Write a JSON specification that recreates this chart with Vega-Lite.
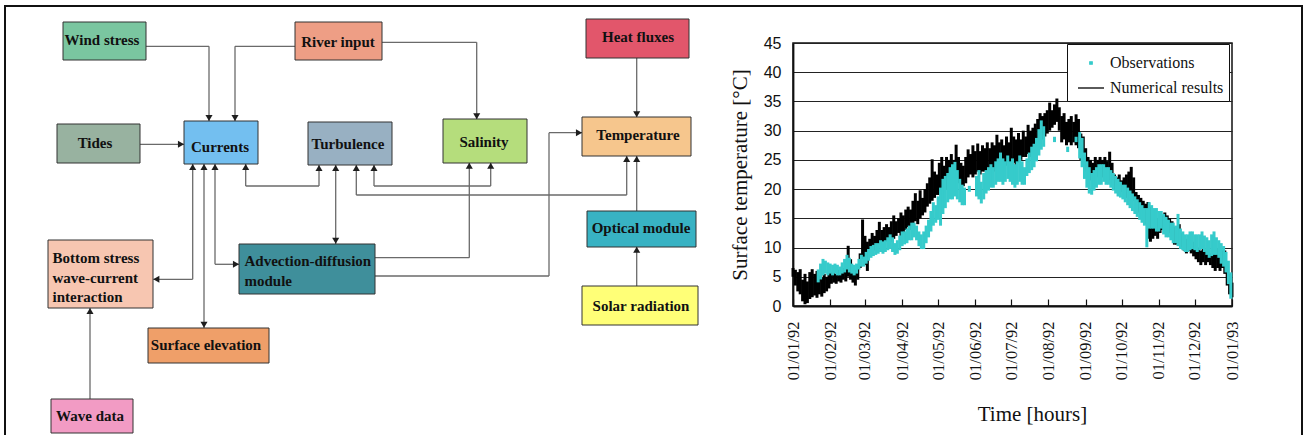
{
  "$schema": "https://vega.github.io/schema/vega-lite/v6.json",
  "padding": 0,
  "bounds": "flush",
  "spacing": 0,
  "config": {"view": {"stroke": null}, "font": "Liberation Serif"},
  "datasets": {
    "model": [
      {"d":0,"lo":5.0,"hi":6.5},{"d":2,"lo":3.5,"hi":6.2},{"d":4,"lo":2.5,"hi":5.8},{"d":6,"lo":2.0,"hi":6.3},{"d":8,"lo":0.8,"hi":4.5},{"d":10,"lo":0.3,"hi":5.5},{"d":12,"lo":0.5,"hi":4.2},{"d":14,"lo":1.2,"hi":5.8},{"d":16,"lo":1.5,"hi":6.3},{"d":18,"lo":1.8,"hi":5.5},
      {"d":20,"lo":1.4,"hi":6.0},{"d":22,"lo":2.0,"hi":5.2},{"d":24,"lo":1.6,"hi":4.8},{"d":26,"lo":2.2,"hi":5.5},{"d":28,"lo":2.5,"hi":5.0},{"d":30,"lo":3.0,"hi":6.2},{"d":32,"lo":3.8,"hi":5.8},{"d":34,"lo":4.0,"hi":6.0},{"d":36,"lo":3.8,"hi":5.5},{"d":38,"lo":4.2,"hi":6.2},
      {"d":40,"lo":4.0,"hi":5.8},{"d":42,"lo":4.5,"hi":6.5},{"d":44,"lo":4.2,"hi":7.5},{"d":46,"lo":5.0,"hi":10.3},{"d":48,"lo":4.5,"hi":8.0},{"d":50,"lo":4.0,"hi":6.5},{"d":52,"lo":3.5,"hi":6.2},{"d":54,"lo":4.5,"hi":7.0},{"d":56,"lo":6.5,"hi":9.0},{"d":58,"lo":8.0,"hi":14.8},
      {"d":60,"lo":7.0,"hi":12.0},{"d":62,"lo":6.0,"hi":11.0},{"d":64,"lo":8.5,"hi":11.5},{"d":66,"lo":9.0,"hi":12.5},{"d":68,"lo":9.5,"hi":12.0},{"d":70,"lo":10.0,"hi":13.0},{"d":72,"lo":10.5,"hi":14.4},{"d":74,"lo":10.0,"hi":13.0},{"d":76,"lo":10.5,"hi":13.5},{"d":78,"lo":11.0,"hi":14.0},
      {"d":80,"lo":11.5,"hi":13.5},{"d":82,"lo":11.0,"hi":14.5},{"d":84,"lo":11.5,"hi":15.5},{"d":86,"lo":12.0,"hi":14.5},{"d":88,"lo":12.5,"hi":15.0},{"d":90,"lo":12.0,"hi":16.0},{"d":92,"lo":12.5,"hi":15.5},{"d":94,"lo":13.0,"hi":16.5},{"d":96,"lo":13.5,"hi":17.0},{"d":98,"lo":13.0,"hi":16.5},
      {"d":100,"lo":14.0,"hi":18.0},{"d":102,"lo":14.5,"hi":19.3},{"d":104,"lo":14.0,"hi":18.0},{"d":106,"lo":15.0,"hi":19.8},{"d":108,"lo":15.5,"hi":18.5},{"d":110,"lo":16.0,"hi":20.0},{"d":112,"lo":17.0,"hi":21.0},{"d":114,"lo":17.5,"hi":22.0},{"d":116,"lo":18.0,"hi":25.1},{"d":118,"lo":18.5,"hi":23.0},
      {"d":120,"lo":19.0,"hi":22.5},{"d":122,"lo":19.0,"hi":24.5},{"d":124,"lo":19.5,"hi":25.5},{"d":126,"lo":19.0,"hi":24.0},{"d":128,"lo":20.0,"hi":25.5},{"d":130,"lo":20.5,"hi":25.0},{"d":132,"lo":21.0,"hi":26.0},{"d":134,"lo":21.5,"hi":25.0},{"d":136,"lo":21.5,"hi":27.6},{"d":138,"lo":21.0,"hi":25.5},
      {"d":140,"lo":20.5,"hi":24.5},{"d":142,"lo":20.5,"hi":24.0},{"d":144,"lo":21.0,"hi":25.5},{"d":146,"lo":22.0,"hi":26.8},{"d":148,"lo":22.5,"hi":26.0},{"d":150,"lo":22.0,"hi":27.5},{"d":152,"lo":22.5,"hi":26.5},{"d":154,"lo":23.0,"hi":27.8},{"d":156,"lo":22.5,"hi":26.5},{"d":158,"lo":23.0,"hi":27.5},
      {"d":160,"lo":23.0,"hi":27.0},{"d":162,"lo":22.5,"hi":28.0},{"d":164,"lo":23.0,"hi":27.0},{"d":166,"lo":23.5,"hi":28.0},{"d":168,"lo":23.0,"hi":27.5},{"d":170,"lo":23.5,"hi":29.3},{"d":172,"lo":23.5,"hi":28.0},{"d":174,"lo":24.0,"hi":28.5},{"d":176,"lo":23.5,"hi":27.5},{"d":178,"lo":24.0,"hi":29.0},
      {"d":180,"lo":24.0,"hi":28.0},{"d":182,"lo":24.5,"hi":30.5},{"d":184,"lo":24.5,"hi":29.0},{"d":186,"lo":24.0,"hi":28.5},{"d":188,"lo":24.5,"hi":29.6},{"d":190,"lo":25.0,"hi":28.5},{"d":192,"lo":25.5,"hi":30.0},{"d":194,"lo":25.5,"hi":29.0},{"d":196,"lo":26.0,"hi":31.0},{"d":198,"lo":25.5,"hi":30.0},
      {"d":200,"lo":26.0,"hi":30.5},{"d":202,"lo":26.5,"hi":31.2},{"d":204,"lo":27.5,"hi":32.0},{"d":206,"lo":28.0,"hi":33.0},{"d":208,"lo":28.5,"hi":32.5},{"d":210,"lo":29.0,"hi":33.0},{"d":212,"lo":29.5,"hi":33.5},{"d":214,"lo":30.0,"hi":34.8},{"d":216,"lo":30.5,"hi":33.5},{"d":218,"lo":31.0,"hi":34.5},
      {"d":220,"lo":31.5,"hi":35.5},{"d":222,"lo":30.0,"hi":34.0},{"d":224,"lo":28.0,"hi":32.5},{"d":226,"lo":28.5,"hi":33.0},{"d":228,"lo":27.5,"hi":31.5},{"d":230,"lo":28.0,"hi":32.0},{"d":232,"lo":27.5,"hi":32.5},{"d":234,"lo":28.0,"hi":31.5},{"d":236,"lo":27.5,"hi":32.8},{"d":238,"lo":27.0,"hi":32.0},
      {"d":240,"lo":25.0,"hi":29.5},{"d":242,"lo":24.0,"hi":29.0},{"d":244,"lo":23.0,"hi":27.0},{"d":246,"lo":22.0,"hi":25.5},{"d":248,"lo":21.5,"hi":25.0},{"d":250,"lo":21.0,"hi":24.5},{"d":252,"lo":21.5,"hi":25.5},{"d":254,"lo":22.0,"hi":25.0},{"d":256,"lo":22.0,"hi":25.5},{"d":258,"lo":22.0,"hi":25.0},
      {"d":260,"lo":21.5,"hi":25.5},{"d":262,"lo":21.5,"hi":24.8},{"d":264,"lo":21.5,"hi":26.4},{"d":266,"lo":21.0,"hi":24.5},{"d":268,"lo":20.0,"hi":22.5},{"d":270,"lo":19.5,"hi":22.0},{"d":272,"lo":19.0,"hi":22.5},{"d":274,"lo":19.5,"hi":21.5},{"d":276,"lo":19.0,"hi":22.0},{"d":278,"lo":18.5,"hi":22.5},
      {"d":280,"lo":19.0,"hi":23.0},{"d":282,"lo":18.5,"hi":23.8},{"d":284,"lo":18.0,"hi":22.0},{"d":286,"lo":17.0,"hi":19.5},{"d":288,"lo":16.0,"hi":19.0},{"d":290,"lo":15.5,"hi":18.5},{"d":292,"lo":15.5,"hi":18.0},{"d":294,"lo":14.0,"hi":17.5},{"d":296,"lo":11.5,"hi":17.8},{"d":298,"lo":11.0,"hi":17.0},
      {"d":300,"lo":11.5,"hi":16.0},{"d":302,"lo":12.0,"hi":15.5},{"d":304,"lo":11.5,"hi":15.0},{"d":306,"lo":12.5,"hi":16.0},{"d":308,"lo":13.0,"hi":15.5},{"d":310,"lo":12.5,"hi":16.0},{"d":312,"lo":13.0,"hi":15.5},{"d":314,"lo":12.5,"hi":15.0},{"d":316,"lo":12.0,"hi":14.5},{"d":318,"lo":10.5,"hi":13.5},
      {"d":320,"lo":10.5,"hi":13.0},{"d":322,"lo":11.0,"hi":14.0},{"d":324,"lo":10.0,"hi":12.5},{"d":326,"lo":9.5,"hi":12.0},{"d":328,"lo":9.0,"hi":11.5},{"d":330,"lo":9.5,"hi":12.0},{"d":332,"lo":9.0,"hi":11.5},{"d":334,"lo":8.5,"hi":11.0},{"d":336,"lo":8.0,"hi":10.5},{"d":338,"lo":7.5,"hi":10.0},
      {"d":340,"lo":7.0,"hi":9.5},{"d":342,"lo":7.5,"hi":10.0},{"d":344,"lo":7.0,"hi":9.5},{"d":346,"lo":7.5,"hi":9.8},{"d":348,"lo":7.0,"hi":9.0},{"d":350,"lo":6.5,"hi":9.5},{"d":352,"lo":6.0,"hi":9.0},{"d":354,"lo":6.5,"hi":9.8},{"d":356,"lo":6.0,"hi":10.0},{"d":358,"lo":6.5,"hi":9.5},
      {"d":360,"lo":5.5,"hi":9.5},{"d":362,"lo":3.5,"hi":7.5},{"d":364,"lo":2.0,"hi":5.5},{"d":366,"lo":1.5,"hi":4.0}
    ],
    "obs": [
      {"d":21,"lo":4.3,"hi":6.0},{"d":23,"lo":4.8,"hi":7.0},{"d":25,"lo":5.5,"hi":7.8},{"d":27,"lo":5.8,"hi":7.5},{"d":29,"lo":5.5,"hi":7.2},{"d":31,"lo":5.8,"hi":7.0},{"d":33,"lo":5.5,"hi":6.8},{"d":35,"lo":5.8,"hi":7.0},{"d":37,"lo":5.5,"hi":6.8},{"d":39,"lo":5.5,"hi":6.5},
      {"d":41,"lo":5.8,"hi":7.2},{"d":43,"lo":6.0,"hi":7.8},{"d":45,"lo":6.5,"hi":8.5},{"d":47,"lo":6.0,"hi":8.0},{"d":49,"lo":5.8,"hi":7.0},{"d":51,"lo":5.5,"hi":6.8},{"d":53,"lo":5.8,"hi":7.0},{"d":55,"lo":6.5,"hi":7.8},{"d":57,"lo":7.0,"hi":8.5},{"d":59,"lo":7.0,"hi":8.2},
      {"d":61,"lo":7.5,"hi":9.0},{"d":63,"lo":8.0,"hi":9.5},{"d":65,"lo":8.5,"hi":10.0},{"d":67,"lo":8.8,"hi":10.2},{"d":69,"lo":9.0,"hi":10.5},{"d":71,"lo":9.2,"hi":10.5},{"d":73,"lo":9.5,"hi":11.0},{"d":75,"lo":9.2,"hi":10.8},{"d":77,"lo":9.5,"hi":11.0},{"d":79,"lo":9.8,"hi":11.5},
      {"d":81,"lo":10.0,"hi":12.0},{"d":83,"lo":9.5,"hi":11.5},{"d":85,"lo":9.0,"hi":10.5},{"d":87,"lo":9.2,"hi":11.0},{"d":89,"lo":9.8,"hi":11.8},{"d":91,"lo":10.5,"hi":12.5},{"d":93,"lo":10.8,"hi":12.5},{"d":95,"lo":11.0,"hi":13.0},{"d":97,"lo":11.5,"hi":13.5},{"d":99,"lo":11.5,"hi":14.0},
      {"d":101,"lo":12.0,"hi":14.0},{"d":103,"lo":11.5,"hi":13.5},{"d":105,"lo":10.5,"hi":12.5},{"d":107,"lo":10.0,"hi":12.0},{"d":109,"lo":10.0,"hi":12.5},{"d":111,"lo":11.0,"hi":13.5},{"d":113,"lo":12.0,"hi":14.5},{"d":115,"lo":13.0,"hi":16.0},{"d":117,"lo":14.0,"hi":17.5},{"d":119,"lo":14.5,"hi":17.0},
      {"d":121,"lo":15.0,"hi":18.5},{"d":123,"lo":14.0,"hi":20.0},{"d":125,"lo":16.0,"hi":21.5},{"d":127,"lo":17.0,"hi":22.0},{"d":129,"lo":18.0,"hi":22.5},{"d":131,"lo":18.5,"hi":23.5},{"d":133,"lo":18.5,"hi":24.0},{"d":135,"lo":19.0,"hi":24.4},{"d":137,"lo":18.5,"hi":23.0},{"d":139,"lo":18.0,"hi":21.5},
      {"d":141,"lo":17.5,"hi":20.5},{"d":143,"lo":17.5,"hi":20.0},{"d":147,"lo":19.8,"hi":20.3},{"d":153,"lo":19.0,"hi":22.0},{"d":155,"lo":18.5,"hi":23.0},{"d":157,"lo":17.8,"hi":21.0},{"d":159,"lo":18.5,"hi":22.5},{"d":161,"lo":19.5,"hi":23.0},{"d":163,"lo":20.0,"hi":23.5},{"d":165,"lo":20.5,"hi":24.0},
      {"d":167,"lo":20.5,"hi":23.5},{"d":169,"lo":21.0,"hi":24.5},{"d":171,"lo":21.5,"hi":25.0},{"d":173,"lo":21.5,"hi":26.0},{"d":175,"lo":21.0,"hi":25.0},{"d":177,"lo":21.5,"hi":24.5},{"d":179,"lo":22.0,"hi":25.5},{"d":181,"lo":21.5,"hi":24.5},{"d":183,"lo":21.0,"hi":25.0},{"d":185,"lo":20.5,"hi":24.0},
      {"d":187,"lo":21.0,"hi":24.5},{"d":189,"lo":21.5,"hi":25.5},{"d":191,"lo":21.0,"hi":24.5},{"d":193,"lo":21.0,"hi":23.5},{"d":195,"lo":22.5,"hi":25.0},{"d":197,"lo":23.0,"hi":26.0},{"d":199,"lo":23.5,"hi":27.0},{"d":201,"lo":24.0,"hi":27.5},{"d":203,"lo":25.0,"hi":28.5},{"d":205,"lo":26.0,"hi":30.0},
      {"d":207,"lo":27.0,"hi":31.5},{"d":209,"lo":27.5,"hi":30.5},{"d":218,"lo":28.3,"hi":28.7},{"d":229,"lo":26.6,"hi":27.0},{"d":236,"lo":28.3,"hi":28.7},{"d":239,"lo":25.5,"hi":29.5},{"d":241,"lo":24.0,"hi":28.5},{"d":243,"lo":22.0,"hi":26.0},{"d":245,"lo":20.5,"hi":24.5},{"d":247,"lo":19.5,"hi":23.5},
      {"d":249,"lo":19.3,"hi":22.5},{"d":251,"lo":20.0,"hi":23.0},{"d":253,"lo":20.5,"hi":23.5},{"d":255,"lo":21.0,"hi":24.0},{"d":257,"lo":21.0,"hi":24.0},{"d":259,"lo":21.5,"hi":24.0},{"d":261,"lo":21.0,"hi":23.5},{"d":263,"lo":21.0,"hi":23.5},{"d":265,"lo":20.5,"hi":23.0},{"d":267,"lo":20.0,"hi":22.5},
      {"d":269,"lo":19.5,"hi":22.0},{"d":271,"lo":19.0,"hi":21.5},{"d":273,"lo":18.8,"hi":21.0},{"d":275,"lo":18.5,"hi":20.5},{"d":277,"lo":18.0,"hi":20.5},{"d":279,"lo":17.5,"hi":20.0},{"d":281,"lo":17.0,"hi":19.5},{"d":283,"lo":16.5,"hi":19.0},{"d":285,"lo":16.0,"hi":18.5},{"d":287,"lo":15.5,"hi":18.0},
      {"d":289,"lo":15.0,"hi":17.5},{"d":291,"lo":14.5,"hi":17.0},{"d":293,"lo":14.0,"hi":16.5},{"d":295,"lo":10.3,"hi":16.5},{"d":297,"lo":13.5,"hi":17.5},{"d":299,"lo":13.5,"hi":17.0},{"d":301,"lo":13.5,"hi":16.5},{"d":303,"lo":13.0,"hi":16.5},{"d":305,"lo":13.0,"hi":16.0},{"d":307,"lo":13.5,"hi":16.0},
      {"d":309,"lo":12.5,"hi":15.5},{"d":311,"lo":12.0,"hi":15.0},{"d":313,"lo":12.0,"hi":14.5},{"d":315,"lo":11.5,"hi":14.0},{"d":317,"lo":11.0,"hi":14.0},{"d":319,"lo":11.0,"hi":13.5},{"d":321,"lo":10.5,"hi":15.5},{"d":323,"lo":10.0,"hi":13.0},{"d":325,"lo":9.8,"hi":12.5},{"d":327,"lo":9.5,"hi":12.0},
      {"d":329,"lo":9.5,"hi":12.0},{"d":331,"lo":9.8,"hi":12.5},{"d":333,"lo":10.0,"hi":12.5},{"d":335,"lo":9.8,"hi":12.0},{"d":337,"lo":9.5,"hi":12.0},{"d":339,"lo":9.8,"hi":12.0},{"d":341,"lo":10.0,"hi":12.5},{"d":343,"lo":9.5,"hi":11.8},{"d":345,"lo":9.0,"hi":11.5},{"d":347,"lo":8.5,"hi":11.0},
      {"d":349,"lo":8.8,"hi":12.0},{"d":351,"lo":9.0,"hi":12.5},{"d":353,"lo":9.0,"hi":11.5},{"d":355,"lo":8.5,"hi":11.0},{"d":357,"lo":7.5,"hi":10.5},{"d":359,"lo":7.0,"hi":10.0},{"d":361,"lo":6.0,"hi":9.0},{"d":363,"lo":4.0,"hi":7.5},{"d":365,"lo":1.5,"hi":5.5}
    ]
  },
  "hconcat": [
    {
      "width": 793,
      "height": 435,
      "encoding": {
        "x": {"field": "x", "type": "quantitative", "scale": {"domain": [0, 793], "nice": false, "zero": false}, "axis": null},
        "y": {"field": "y", "type": "quantitative", "scale": {"domain": [0, 435], "nice": false, "zero": false, "reverse": true}, "axis": null}
      },
      "layer": [
        {
          "data": {"values": [{"x": 5, "x2": 1302, "y": 6, "y2": 440}]},
          "mark": {"type": "rect", "fillOpacity": 0, "stroke": "#111", "strokeWidth": 2},
          "encoding": {"x2": {"field": "x2"}, "y2": {"field": "y2"}}
        },
        {
          "data": {"values": [
            {"x": 146, "y": 46.3, "x2": 209, "y2": 46.3}, {"x": 209, "y": 46.3, "x2": 209, "y2": 121},
            {"x": 295, "y": 46.3, "x2": 235, "y2": 46.3}, {"x": 235, "y": 46.3, "x2": 235, "y2": 121},
            {"x": 140, "y": 144.3, "x2": 184, "y2": 144.3},
            {"x": 245.7, "y": 164, "x2": 245.7, "y2": 186}, {"x": 245.7, "y": 186, "x2": 319, "y2": 186}, {"x": 319, "y": 186, "x2": 319, "y2": 165},
            {"x": 335.7, "y": 165, "x2": 335.7, "y2": 244},
            {"x": 356.3, "y": 165, "x2": 356.3, "y2": 195}, {"x": 356.3, "y": 195, "x2": 626.7, "y2": 195}, {"x": 626.7, "y": 195, "x2": 626.7, "y2": 156},
            {"x": 374, "y": 165, "x2": 374, "y2": 186}, {"x": 374, "y": 186, "x2": 490.7, "y2": 186}, {"x": 490.7, "y": 186, "x2": 490.7, "y2": 163},
            {"x": 192.7, "y": 164, "x2": 192.7, "y2": 279.3}, {"x": 192.7, "y": 279.3, "x2": 153.3, "y2": 279.3},
            {"x": 204, "y": 164, "x2": 204, "y2": 328},
            {"x": 215, "y": 164, "x2": 215, "y2": 264.3}, {"x": 215, "y": 264.3, "x2": 239, "y2": 264.3},
            {"x": 382, "y": 42.3, "x2": 476.7, "y2": 42.3}, {"x": 476.7, "y": 42.3, "x2": 476.7, "y2": 119},
            {"x": 636.7, "y": 58, "x2": 636.7, "y2": 117},
            {"x": 375, "y": 257.7, "x2": 469.3, "y2": 257.7}, {"x": 469.3, "y": 257.7, "x2": 469.3, "y2": 163},
            {"x": 375, "y": 276, "x2": 549, "y2": 276}, {"x": 549, "y": 276, "x2": 549, "y2": 132.7}, {"x": 549, "y": 132.7, "x2": 582, "y2": 132.7},
            {"x": 636.7, "y": 211, "x2": 636.7, "y2": 156},
            {"x": 636.7, "y": 286, "x2": 636.7, "y2": 247},
            {"x": 90, "y": 399, "x2": 90, "y2": 308}
          ]},
          "mark": {"type": "rule", "color": "#6a6a6a", "strokeWidth": 1.3},
          "encoding": {"x2": {"field": "x2"}, "y2": {"field": "y2"}}
        },
        {
          "data": {"values": [
            {"name": "Wind stress", "x": 63, "x2": 146, "y": 22, "y2": 60},
            {"name": "River input", "x": 295, "x2": 382, "y": 22, "y2": 60},
            {"name": "Heat fluxes", "x": 586, "x2": 689, "y": 19, "y2": 58},
            {"name": "Tides", "x": 57, "x2": 140, "y": 124, "y2": 163},
            {"name": "Currents", "x": 184, "x2": 258, "y": 121, "y2": 164},
            {"name": "Turbulence", "x": 308, "x2": 392, "y": 122, "y2": 165},
            {"name": "Salinity", "x": 443, "x2": 527, "y": 119, "y2": 163},
            {"name": "Temperature", "x": 582, "x2": 691, "y": 117, "y2": 156},
            {"name": "Optical module", "x": 587, "x2": 696, "y": 211, "y2": 247},
            {"name": "Solar radiation", "x": 582, "x2": 698, "y": 286, "y2": 325},
            {"name": "Bottom stress", "x": 48, "x2": 153, "y": 240, "y2": 308},
            {"name": "Advection-diffusion", "x": 239, "x2": 375, "y": 244, "y2": 294},
            {"name": "Surface elevation", "x": 148, "x2": 269, "y": 328, "y2": 363},
            {"name": "Wave data", "x": 51, "x2": 133, "y": 399, "y2": 433}
          ]},
          "mark": {"type": "rect", "stroke": "#333", "strokeWidth": 1},
          "encoding": {
            "x2": {"field": "x2"}, "y2": {"field": "y2"},
            "fill": {"field": "name", "type": "nominal", "legend": null, "scale": {
              "domain": ["Wind stress", "River input", "Heat fluxes", "Tides", "Currents", "Turbulence", "Salinity", "Temperature", "Optical module", "Solar radiation", "Bottom stress", "Advection-diffusion", "Surface elevation", "Wave data"],
              "range": ["#7AC6A0", "#EE9E85", "#E2566B", "#98B2A0", "#73BFF0", "#98B0C2", "#B5DD7C", "#F6C68D", "#38B2C3", "#FFFF77", "#F7C6B1", "#3F8F9B", "#EF9F69", "#F29BC4"]}}
          }
        },
        {
          "data": {"values": [
            {"x": 209, "y": 118, "dir": "down"}, {"x": 235, "y": 118, "dir": "down"}, {"x": 476.7, "y": 116.3, "dir": "down"}, {"x": 636.7, "y": 114.3, "dir": "down"}, {"x": 335.7, "y": 240.7, "dir": "down"}, {"x": 204, "y": 324.7, "dir": "down"},
            {"x": 245.7, "y": 167, "dir": "up"}, {"x": 319, "y": 168, "dir": "up"}, {"x": 335.7, "y": 168, "dir": "up"}, {"x": 356.3, "y": 168, "dir": "up"}, {"x": 374, "y": 168, "dir": "up"},
            {"x": 490.7, "y": 165.7, "dir": "up"}, {"x": 469.3, "y": 165.7, "dir": "up"}, {"x": 626.7, "y": 159, "dir": "up"}, {"x": 636.7, "y": 159, "dir": "up"},
            {"x": 192.7, "y": 167, "dir": "up"}, {"x": 204, "y": 167, "dir": "up"}, {"x": 215, "y": 167, "dir": "up"}, {"x": 636.7, "y": 249.7, "dir": "up"}, {"x": 90, "y": 311, "dir": "up"},
            {"x": 181, "y": 144.3, "dir": "right"}, {"x": 236, "y": 264.3, "dir": "right"}, {"x": 579, "y": 132.7, "dir": "right"},
            {"x": 156.3, "y": 279.3, "dir": "left"}
          ]},
          "mark": {"type": "point", "filled": true, "color": "#1e1e1e", "size": 50, "opacity": 1},
          "encoding": {
            "shape": {"field": "dir", "type": "nominal", "legend": null, "scale": {"domain": ["up", "down", "left", "right"], "range": ["triangle-up", "triangle-down", "triangle-left", "triangle-right"]}}
          }
        },
        {
          "data": {"values": [
            {"t": "Wind stress", "x": 102, "y": 45},
            {"t": "River input", "x": 338, "y": 47},
            {"t": "Heat fluxes", "x": 638, "y": 42},
            {"t": "Tides", "x": 95, "y": 148},
            {"t": "Currents", "x": 220, "y": 151.5},
            {"t": "Turbulence", "x": 348, "y": 149},
            {"t": "Salinity", "x": 484, "y": 146.5},
            {"t": "Temperature", "x": 638, "y": 140},
            {"t": "Optical module", "x": 641, "y": 233},
            {"t": "Solar radiation", "x": 641, "y": 311},
            {"t": "Surface elevation", "x": 206, "y": 350},
            {"t": "Wave data", "x": 90, "y": 421}
          ]},
          "mark": {"type": "text", "font": "Liberation Serif", "fontWeight": "bold", "fontSize": 15, "color": "#111", "align": "center", "baseline": "alphabetic"},
          "encoding": {"text": {"field": "t"}}
        },
        {
          "data": {"values": [
            {"t": "Bottom stress", "x": 52.5, "y": 263},
            {"t": "wave-current", "x": 52.5, "y": 282.5},
            {"t": "interaction", "x": 52.5, "y": 301.5},
            {"t": "Advection-diffusion", "x": 244.5, "y": 266},
            {"t": "module", "x": 244.5, "y": 285.5}
          ]},
          "mark": {"type": "text", "font": "Liberation Serif", "fontWeight": "bold", "fontSize": 15, "color": "#111", "align": "left", "baseline": "alphabetic"},
          "encoding": {"text": {"field": "t"}}
        }
      ]
    },
    {
      "spacing": 0,
      "bounds": "flush",
      "vconcat": [
        {
          "width": 439,
          "height": 43,
          "data": {"values": [{}]},
          "mark": {"type": "point", "opacity": 0},
          "encoding": {}
        },
        {
          "width": 439,
          "height": 263,
          "view": {"stroke": "#111", "strokeWidth": 1.5},
          "encoding": {
            "x": {"field": "d", "type": "quantitative", "scale": {"domain": [0, 366], "nice": false, "zero": false},
              "axis": {
                "values": [0, 31, 60, 91, 121, 152, 182, 213, 244, 274, 305, 335, 366],
                "labelExpr": "['01/01/92','01/02/92','01/03/92','01/04/92','01/05/92','01/06/92','01/07/92','01/08/92','01/09/92','01/10/92','01/11/92','01/12/92','01/01/93'][indexof([0,31,60,91,121,152,182,213,244,274,305,335,366], datum.value)]",
                "labelAngle": 270, "labelFont": "Liberation Serif", "labelFontSize": 16.5, "labelColor": "#111",
                "labelPadding": 22, "labelFlush": false, "labelOverlap": false,
                "tickSize": -7, "tickColor": "#111", "tickWidth": 1.2,
                "domainColor": "#111", "domainWidth": 1.8, "grid": false,
                "title": "Time [hours]", "titleFont": "Liberation Serif", "titleFontSize": 21, "titleFontWeight": "normal", "titleColor": "#111",
                "titleX": 239, "titleY": 114, "titleBaseline": "alphabetic", "titleAlign": "center", "titleAnchor": "start"
              }
            },
            "y": {"field": "lo", "type": "quantitative", "scale": {"domain": [0, 45], "nice": false, "zero": false},
              "axis": {
                "values": [0, 5, 10, 15, 20, 25, 30, 35, 40, 45],
                "labelFont": "Liberation Sans", "labelFontSize": 16, "labelColor": "#111", "labelPadding": 12,
                "labelFlush": false, "labelOverlap": false, "ticks": false,
                "grid": true, "gridColor": "#222", "gridWidth": 1,
                "domainColor": "#111", "domainWidth": 1.8,
                "title": "Surface temperature [°C]", "titleFont": "Liberation Serif", "titleFontSize": 21, "titleFontWeight": "normal", "titleColor": "#111",
                "titleAngle": 270, "titleX": -47, "titleY": 131.5, "titleBaseline": "alphabetic", "titleAlign": "center", "titleAnchor": "start"
              }
            }
          },
          "layer": [
            {
              "data": {"name": "model"},
              "mark": {"type": "rule", "strokeWidth": 3},
              "encoding": {
                "y2": {"field": "hi"},
                "color": {"datum": "Numerical results", "type": "nominal",
                  "scale": {"domain": ["Observations", "Numerical results"], "range": ["#36CBCB", "#000000"]},
                  "legend": {
                    "title": null, "orient": "none", "legendX": 1067, "legendY": 44,
                    "strokeColor": "#111", "fillColor": "white", "padding": 5,
                    "labelFont": "Liberation Serif", "labelFontSize": 16, "labelColor": "#111",
                    "symbolSize": 100, "symbolOffset": 5, "labelOffset": 5, "rowPadding": 3,
                    "encode": {"symbols": {"update": {
                      "shape": {"signal": "datum.value === 'Observations' ? 'square' : 'stroke'"},
                      "size": {"signal": "datum.value === 'Observations' ? 6 : 676"},
                      "fill": {"signal": "datum.value === 'Observations' ? '#36CBCB' : 'transparent'"},
                      "stroke": {"signal": "datum.value === 'Observations' ? '#36CBCB' : '#000000'"},
                      "strokeWidth": {"value": 1.3},
                      "opacity": {"value": 1}
                    }}}
                  }
                }
              }
            },
            {
              "data": {"name": "obs"},
              "mark": {"type": "rule", "strokeWidth": 3, "strokeCap": "square"},
              "encoding": {
                "y2": {"field": "hi"},
                "color": {"datum": "Observations", "type": "nominal"}
              }
            },
            {
              "data": {"values": [{}]},
              "mark": {"type": "text", "text": "(a)", "font": "Liberation Serif", "fontStyle": "italic", "fontSize": 16, "color": "#111", "align": "left", "baseline": "alphabetic"},
              "encoding": {"x": {"datum": 8.3}, "y": {"datum": 41.3}}
            }
          ]
        }
      ]
    }
  ]
}
